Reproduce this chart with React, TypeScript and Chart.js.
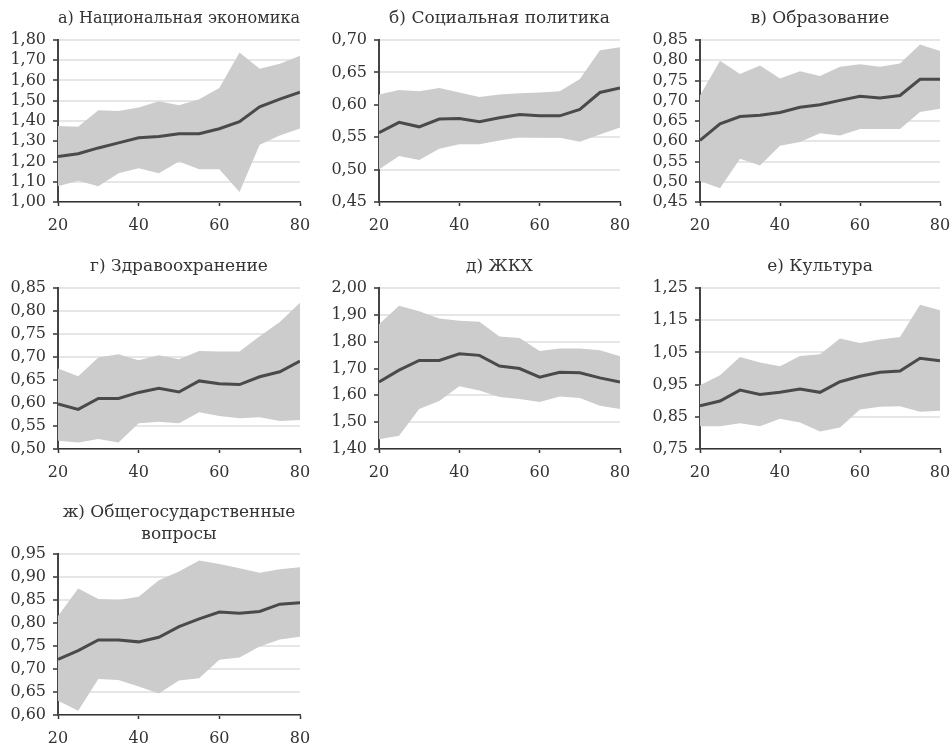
import React, { useEffect, useRef } from "react";
import { Chart, registerables } from "chart.js";

Chart.register(...registerables);

// ---------- DATA ----------
const ages = [20, 25, 30, 35, 40, 45, 50, 55, 60, 65, 70, 75, 80];

const econMid = [1.225, 1.238, 1.267, 1.292, 1.317, 1.323, 1.337, 1.337, 1.362, 1.397, 1.47, 1.508, 1.542];
const econUp = [1.375, 1.372, 1.453, 1.45, 1.467, 1.497, 1.478, 1.508, 1.563, 1.738, 1.658, 1.683, 1.722];
const econLo = [1.078, 1.105, 1.078, 1.142, 1.167, 1.142, 1.2, 1.162, 1.162, 1.05, 1.283, 1.328, 1.363];

const socMid = [0.557, 0.573, 0.566, 0.578, 0.579, 0.574, 0.58, 0.585, 0.583, 0.583, 0.593, 0.619, 0.626];
const socUp = [0.616, 0.623, 0.621, 0.626, 0.619, 0.612, 0.616, 0.618, 0.619, 0.621, 0.64, 0.684, 0.689];
const socLo = [0.5, 0.521, 0.515, 0.532, 0.539, 0.539, 0.545, 0.55, 0.549, 0.549, 0.543, 0.554, 0.565];

const eduMid = [0.602, 0.643, 0.661, 0.664, 0.671, 0.684, 0.69, 0.701, 0.711, 0.707, 0.713, 0.753, 0.753];
const eduUp = [0.713, 0.799, 0.766, 0.787, 0.755, 0.773, 0.761, 0.784, 0.79, 0.784, 0.792, 0.839, 0.823];
const eduLo = [0.502, 0.484, 0.557, 0.54, 0.589, 0.598, 0.62, 0.614, 0.63, 0.63, 0.63, 0.672, 0.68];

const healthMid = [0.598, 0.586, 0.61, 0.61, 0.623, 0.632, 0.624, 0.648, 0.642, 0.64, 0.657, 0.668, 0.691];
const healthUp = [0.675, 0.658, 0.699, 0.706, 0.693, 0.704, 0.695, 0.713, 0.712, 0.712, 0.745, 0.776, 0.818];
const healthLo = [0.518, 0.514, 0.522, 0.514, 0.556, 0.559, 0.556, 0.58, 0.572, 0.567, 0.569, 0.561, 0.563];

const housingMid = [1.65, 1.694, 1.73, 1.73, 1.755, 1.749, 1.709, 1.7, 1.668, 1.686, 1.684, 1.665, 1.65];
const housingUp = [1.865, 1.934, 1.913, 1.886, 1.878, 1.874, 1.819, 1.814, 1.765, 1.775, 1.775, 1.768, 1.746];
const housingLo = [1.436, 1.449, 1.549, 1.579, 1.634, 1.618, 1.594, 1.586, 1.575, 1.596, 1.59, 1.561, 1.549];

const cultMid = [0.884, 0.899, 0.933, 0.919, 0.926, 0.936, 0.926, 0.959, 0.976, 0.988, 0.992, 1.032, 1.024];
const cultUp = [0.948, 0.979, 1.036, 1.019, 1.007, 1.039, 1.044, 1.093, 1.079, 1.09, 1.098, 1.198, 1.181];
const cultLo = [0.821, 0.821, 0.83, 0.821, 0.844, 0.832, 0.804, 0.817, 0.873, 0.881, 0.883, 0.866, 0.869];

const govMid = [0.721, 0.74, 0.763, 0.763, 0.759, 0.769, 0.792, 0.809, 0.824, 0.821, 0.825, 0.841, 0.844];
const govUp = [0.815, 0.875, 0.852, 0.85, 0.857, 0.893, 0.912, 0.936, 0.928, 0.919, 0.909, 0.917, 0.921];
const govLo = [0.631, 0.609, 0.678, 0.676, 0.662, 0.647, 0.675, 0.68, 0.72, 0.725, 0.749, 0.764, 0.77];

const xMin = 20;
const xMax = 80;
const xStep = 20;

const titles: (string | string[])[] = [
  "а) Национальная экономика",
  "б) Социальная политика",
  "в) Образование",
  "г) Здравоохранение",
  "д) ЖКХ",
  "е) Культура",
  ["ж) Общегосударственные", "вопросы"],
];

const yMins = [1.0, 0.45, 0.45, 0.5, 1.4, 0.75, 0.6];
const yMaxs = [1.8, 0.7, 0.85, 0.85, 2.0, 1.25, 0.95];
const ySteps = [0.1, 0.05, 0.05, 0.05, 0.1, 0.1, 0.05];

const mids = [econMid, socMid, eduMid, healthMid, housingMid, cultMid, govMid];
const ups = [econUp, socUp, eduUp, healthUp, housingUp, cultUp, govUp];
const los = [econLo, socLo, eduLo, healthLo, housingLo, cultLo, govLo];

// ---------- LAYOUT ----------
type Box = { left: number; top: number; plotLeft: number; plotRight: number; plotTop: number; plotBottom: number };

const colGeom = [
  { left: 0, plotLeft: 58, plotRight: 300 },
  { left: 310, plotLeft: 379, plotRight: 620 },
  { left: 630, plotLeft: 700, plotRight: 940 },
];
const rowGeom = [
  { top: 0, plotTop: 40, plotBottom: 202 },
  { top: 248, plotTop: 288, plotBottom: 449 },
  { top: 494, plotTop: 554, plotBottom: 715 },
];

const boxes: Box[] = titles.map((_, i) => {
  const c = colGeom[i % 3];
  const r = rowGeom[Math.floor(i / 3)];
  return { ...c, ...r };
});

const FONT = "'DejaVu Serif', serif";
const TEXT = "#333333";
const AXIS = "#333333";
const GRID = "#e6e6e6";
const BAND = "#cccccc";
const LINE = "#4a4a4a";
const PAD_RIGHT = 21;
const X_AXIS_H = 36;
const X_TICK_PAD = 10;
const TITLE_SIZE = 17;
const TITLE_LH = 1.33;
const TICK_SIZE = 16;

const fmt = (v: number) => v.toFixed(2).replace(".", ",");

function Panel({ idx }: { idx: number }) {
  const ref = useRef<HTMLCanvasElement | null>(null);
  const b = boxes[idx];
  const width = b.plotRight - b.left + PAD_RIGHT;
  const height = b.plotBottom - b.top + X_AXIS_H;

  useEffect(() => {
    if (!ref.current) return;
    const title = titles[idx];
    const nLines = Array.isArray(title) ? title.length : 1;
    const titleBox = b.plotTop - b.top;
    const padTop = 7;
    const padBottom = titleBox - padTop - nLines * TITLE_SIZE * TITLE_LH;
    const pts = (arr: number[]) => ages.map((a, i) => ({ x: a, y: arr[i] }));

    const chart = new Chart(ref.current, {
      type: "line",
      data: {
        datasets: [
          {
            data: pts(mids[idx]),
            borderColor: LINE,
            borderWidth: 3,
            pointRadius: 0,
            tension: 0,
            fill: false,
          },
          {
            data: pts(los[idx]),
            borderColor: "rgba(0,0,0,0)",
            borderWidth: 0,
            pointRadius: 0,
            tension: 0,
            fill: false,
          },
          {
            data: pts(ups[idx]),
            borderColor: "rgba(0,0,0,0)",
            backgroundColor: BAND,
            borderWidth: 0,
            pointRadius: 0,
            tension: 0,
            fill: "-1",
          },
        ],
      },
      options: {
        responsive: false,
        animation: false,
        devicePixelRatio: 1,
        layout: { padding: { left: 0, right: PAD_RIGHT, top: 0, bottom: 0 } },
        plugins: {
          legend: { display: false },
          tooltip: { enabled: false },
          title: {
            display: true,
            text: title as any,
            fullSize: false,
            color: TEXT,
            font: { family: FONT, size: TITLE_SIZE, weight: "normal", lineHeight: TITLE_LH },
            padding: { top: padTop, bottom: padBottom },
          },
        },
        scales: {
          x: {
            type: "linear",
            min: xMin,
            max: xMax,
            ticks: {
              stepSize: xStep,
              color: TEXT,
              font: { family: FONT, size: TICK_SIZE },
              padding: X_TICK_PAD,
              maxRotation: 0,
              autoSkip: false,
            },
            grid: { drawOnChartArea: false, drawTicks: true, tickLength: 4, tickColor: AXIS, tickWidth: 1.5 },
            border: { color: AXIS, width: 1.5 },
            afterFit: (s: any) => {
              s.height = X_AXIS_H;
            },
          },
          y: {
            type: "linear",
            min: yMins[idx],
            max: yMaxs[idx],
            ticks: {
              stepSize: ySteps[idx],
              color: TEXT,
              font: { family: FONT, size: TICK_SIZE, lineHeight: 1 },
              padding: 7,
              autoSkip: false,
              callback: (v: any) => fmt(Number(v)),
            },
            grid: { color: GRID, lineWidth: 2, drawTicks: true, tickLength: 5, tickColor: AXIS, tickWidth: 1.5 },
            border: { color: "#444444", width: 2 },
            afterFit: (s: any) => {
              s.width = b.plotLeft - b.left;
            },
          },
        },
      } as any,
    });
    return () => chart.destroy();
  }, [idx]);

  return (
    <canvas
      ref={ref}
      width={width}
      height={height}
      style={{ position: "absolute", left: b.left, top: b.top, width, height }}
    />
  );
}

export default function App() {
  return (
    <div
      style={{
        position: "absolute",
        left: 0,
        top: 0,
        width: 952,
        height: 744,
        overflow: "hidden",
        background: "#ffffff",
      }}
    >
      {titles.map((_, i) => (
        <Panel key={i} idx={i} />
      ))}
    </div>
  );
}
